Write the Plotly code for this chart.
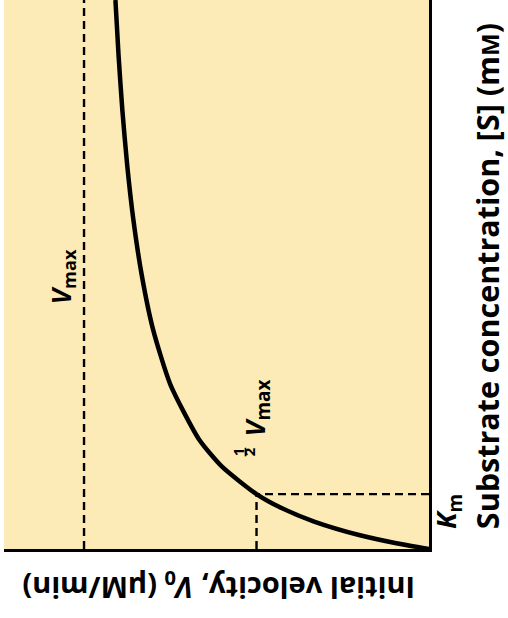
import plotly.graph_objects as go

# Data (rotated Michaelis-Menten plot)
S_mM = [0, 0.1, 0.25, 0.5, 0.75, 1, 1.5, 2, 3, 4, 5, 6, 7, 8, 9, 10]
V0 = [0, 0.91, 2.0, 3.33, 4.29, 5.0, 6.0, 6.67, 7.5, 8.0, 8.33, 8.57, 8.75, 8.89, 9.0, 9.09]
Vmax = 10.0
Km = 1.0
S_max = 10.0
V_range_max = 12.32

YELLOW = "#FCEBB6"
FONT = "Open Sans"

fig = go.Figure()

dash = "8px,5px"
# Vmax dashed line
fig.add_trace(go.Scatter(x=[Vmax, Vmax], y=[0, S_max], mode="lines",
                         line=dict(color="black", width=2.4, dash=dash), hoverinfo="skip"))
# half Vmax vertical dashed
fig.add_trace(go.Scatter(x=[Vmax / 2, Vmax / 2], y=[0, Km], mode="lines",
                         line=dict(color="black", width=2.4, dash=dash), hoverinfo="skip"))
# Km horizontal dashed
fig.add_trace(go.Scatter(x=[0, Vmax / 2], y=[Km, Km], mode="lines",
                         line=dict(color="black", width=2.4, dash=dash), hoverinfo="skip"))
# curve
fig.add_trace(go.Scatter(x=V0, y=S_mM, mode="lines",
                         line=dict(color="black", width=4.5, shape="spline", smoothing=0.6),
                         hoverinfo="skip"))

fig.update_layout(
    width=508, height=618,
    margin=dict(l=4, r=79, t=0, b=69),
    paper_bgcolor="white", plot_bgcolor=YELLOW,
    showlegend=False,
    font=dict(family=FONT, color="black"),
    xaxis=dict(range=[V_range_max, 0], showgrid=False, zeroline=False, showticklabels=False,
               ticks="", showline=True, linecolor="black", linewidth=3, fixedrange=True),
    yaxis=dict(range=[0, S_max], side="right", showgrid=False, zeroline=False,
               showticklabels=False, ticks="", showline=True, linecolor="black",
               linewidth=3, fixedrange=True),
)

def ann(text, x, y, xref, yref, size, angle, xshift=0, yshift=0):
    fig.add_annotation(text=text, x=x, y=y, xref=xref, yref=yref, showarrow=False,
                       textangle=angle, xanchor="center", yanchor="middle",
                       xshift=xshift, yshift=yshift,
                       font=dict(family=FONT, size=size, color="black"))

# axis titles
ann("<b>Initial velocity, <i>V</i><sub>0</sub> (μM/min)</b>", 0.506, 0, "paper", "paper",
    29, 180, yshift=-38)
ann("<b>Substrate concentration, [S] (m<span style='font-size:24px'>M</span>)</b>",
    1, 0.497, "paper", "paper", 30.5, -90, xshift=58)
# Km label
ann("<b><i>K</i><sub>m</sub></b>", 1, Km, "paper", "y", 27, -90, xshift=18, yshift=-18)
# Vmax label
ann("<b><i>V</i><sub>max</sub></b>", Vmax, 0.495, "x", "paper", 26, -90, xshift=-22)
# 1/2 Vmax label
ann("<b><i>V</i><sub>max</sub></b>", Vmax / 2, 0.257, "x", "paper", 27, -90, xshift=0)
ann("<b><u>1</u></b>", Vmax / 2, 0.177, "x", "paper", 15, -90, xshift=-19)
ann("<b>2</b>", Vmax / 2, 0.177, "x", "paper", 15, -90, xshift=-8)

fig.write_html("out.html", config={"displayModeBar": False},
               post_script="document.body.style.margin='0px';")
